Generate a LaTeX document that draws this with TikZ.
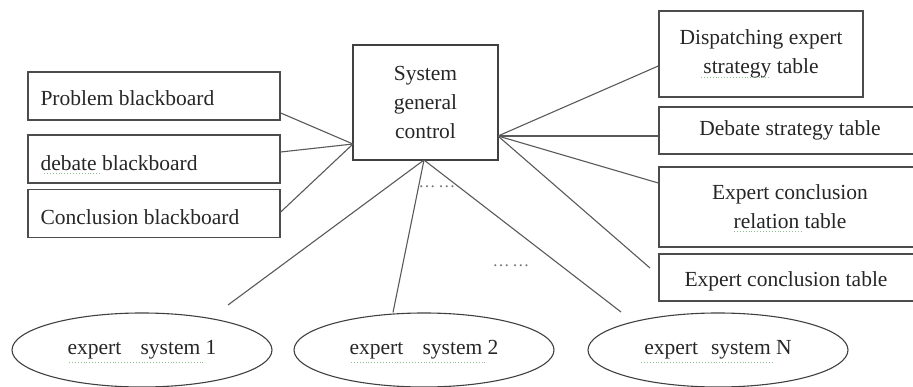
\documentclass[tikz,border=0pt]{standalone}
\usepackage{fontspec}
\setmainfont{Liberation Serif}
\usetikzlibrary{shapes.geometric}
\begin{document}
\begin{tikzpicture}[x=1pt,y=-1pt,
  every node/.style={font=\fontsize{21.5}{29}\selectfont, text=black!85},
  lbox/.style={draw=black!70, line width=1.4pt, minimum width=252pt, minimum height=48pt, inner xsep=0pt},
  rbox/.style={draw=black!70, line width=1.4pt, align=center, inner sep=0pt},
  ctrl/.style={draw=black!75, line width=1.2pt, align=center, minimum width=145pt, minimum height=115pt, inner sep=0pt},
  expert/.style={ellipse, draw=black!75, line width=1.1pt, minimum width=260pt, minimum height=74pt, inner sep=0pt},
  conn/.style={draw=black!65, line width=1.1pt},
  dots/.style={font=\fontsize{17}{17}\selectfont, text=black!55},
  spell/.style={draw=green!45!black!45, line width=0.9pt, dotted}
]
\useasboundingbox (0,0) rectangle (913,387);

% central box
\node[ctrl] (ctrl) at (425.5,102.5) {System\\general\\control};

% left boxes
\node[lbox] (pb) at (154,96) {};
\node[anchor=west] (pbt) at (37,98) {Problem blackboard};
\node[lbox] (db) at (154,159) {};
\node[anchor=west] (dbt) at (37,163) {debate blackboard};
\node[lbox] (cb) at (154,213.5) {};
\node[anchor=west] (cbt) at (37,217) {Conclusion blackboard};

% right boxes
\node[rbox, minimum width=204pt, minimum height=86pt] (dis) at (761,54) {Dispatching expert\\strategy table};
\node[rbox, minimum width=262pt, minimum height=47pt] (dst) at (790,130.5) {Debate strategy table};
\node[rbox, minimum width=262pt, minimum height=80pt] (ecr) at (790,207) {Expert conclusion\\relation table};
\node[rbox, minimum width=262pt, minimum height=47pt] (ect) at (790,277.5) {};
\node (ectt) at (786,281) {Expert conclusion table};

% ellipses
\node[expert] (e1) at (142,350) {expert\hspace{0.9em}system 1};
\node[expert] (e2) at (424,350) {expert\hspace{0.9em}system 2};
\node[expert] (e3) at (718,350) {expert\hspace{0.6em}system N};

% dots
\node[dots] (d1) at (437,187) {\textellipsis\,\textellipsis};
\node[dots] (d2) at (511,266) {\textellipsis\,\textellipsis};

% spell-check underlines
\draw[spell] (dbt.west |- 0,173) ++(7,0) -- ++(58,0);
\draw[spell] (701,77) -- (770,77);
\draw[spell] (734,231) -- (801,231);
\draw[spell] (69,362) -- (205,362);
\draw[spell] (351,362) -- (487,362);
\draw[spell] (641,362) -- (773,362);

% junction coordinates
\coordinate (cl) at (353,144);
\coordinate (cr) at (498,136);
\coordinate (cbm) at (424,160);
\coordinate (l1) at (228,305);
\coordinate (l3) at (621,312);
\coordinate (lt) at (650,268);

% connectors left
\draw[conn] (pb.east |- 0,113) -- (cl);
\draw[conn] (db.east |- 0,152) -- (cl);
\draw[conn] (cb.east |- 0,212) -- (cl);

% connectors right
\draw[conn] (cr) -- (dis.west |- 0,66);
\draw[conn] (cr) -- (dst.west |- cr);
\draw[conn] (cr) -- (ecr.west |- 0,183);
\draw[conn] (cr) -- (lt);

% connectors down
\draw[conn] (cbm) -- (l1);
\draw[conn] (cbm) -- (e2.north -| 393,0);
\draw[conn] (cbm) -- (l3);
\end{tikzpicture}
\end{document}
